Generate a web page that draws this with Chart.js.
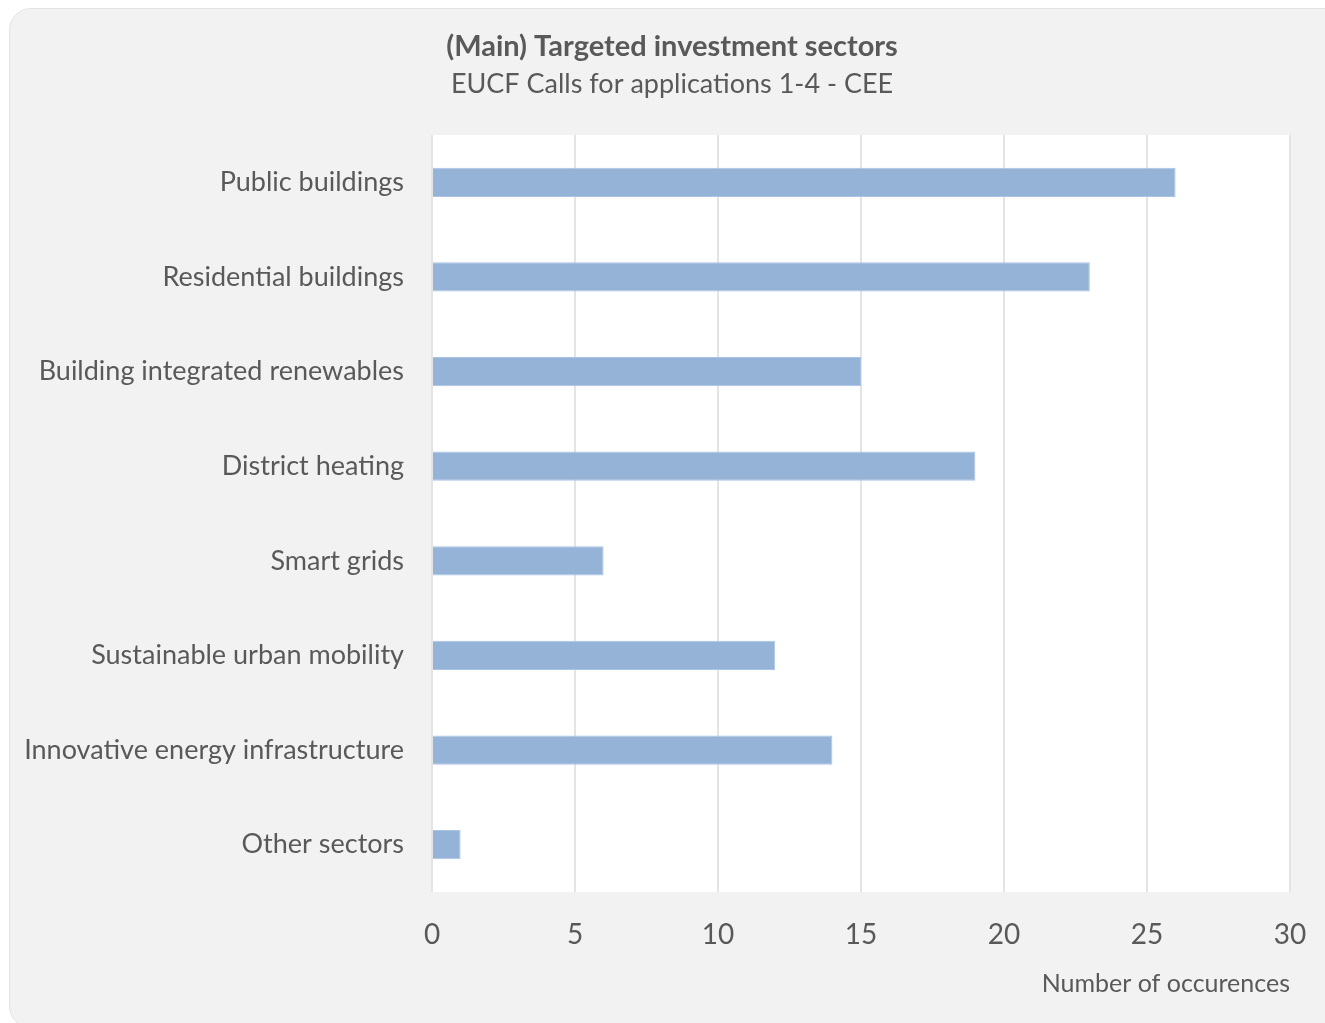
<!DOCTYPE html>
<html>
<head>
<meta charset="utf-8">
<script src="https://cdn.jsdelivr.net/npm/chart.js@4.4.1/dist/chart.umd.min.js"></script>
<style>
  html, body { margin: 0; padding: 0; background: #ffffff; overflow: hidden; }
  #card {
    position: absolute; left: 9px; top: 8px; width: 1340px; height: 1020px;
    background: #f2f2f2; border: 1px solid #e3e3e3; border-radius: 22px; box-sizing: border-box;
  }
  #wrap { position: absolute; left: 0; top: 0; width: 1344px; height: 1023px; }
</style>
</head>
<body>
<div id="card"></div>
<div id="wrap"><canvas id="chart"></canvas></div>
<script>
const sectors = [
  'Public buildings',
  'Residential buildings',
  'Building integrated renewables',
  'District heating',
  'Smart grids',
  'Sustainable urban mobility',
  'Innovative energy infrastructure',
  'Other sectors'
];
const occurrences = [26, 23, 15, 19, 6, 12, 14, 1];
const xTicks = [0, 5, 10, 15, 20, 25, 30];
const chartTitle = '(Main) Targeted investment sectors';
const chartSubtitle = 'EUCF Calls for applications 1-4 - CEE';

const fontFamily = '"Source Sans Pro", Lato, "Open Sans", sans-serif';
const textColor = '#595959';

const plotBackground = {
  id: 'plotBackground',
  beforeDraw(chart) {
    const { ctx, chartArea } = chart;
    ctx.save();
    ctx.fillStyle = '#ffffff';
    ctx.fillRect(chartArea.left, chartArea.top, chartArea.right - chartArea.left, chartArea.bottom - chartArea.top);
    ctx.restore();
  }
};

// title centred on the card rather than on the padded layout box
const cardTitle = {
  id: 'cardTitle',
  afterDraw(chart) {
    const ctx = chart.ctx;
    ctx.save();
    ctx.fillStyle = textColor;
    ctx.textAlign = 'center';
    ctx.textBaseline = 'middle';
    ctx.font = `bold 29px ${fontFamily}`;
    ctx.fillText(chartTitle, 672, 47);
    ctx.font = `27px ${fontFamily}`;
    ctx.fillText(chartSubtitle, 672, 84);
    ctx.restore();
  }
};

const ctx = document.getElementById('chart').getContext('2d');
new Chart(ctx, {
  type: 'bar',
  data: {
    labels: sectors,
    datasets: [{
      data: occurrences,
      backgroundColor: '#95b3d7',
      borderColor: '#a8c3e6',
      borderWidth: 1,
      categoryPercentage: 1,
      barPercentage: 0.31
    }]
  },
  options: {
    indexAxis: 'y',
    responsive: true,
    maintainAspectRatio: false,
    animation: false,
    layout: { padding: { top: 135, right: 54, bottom: 24, left: 10 } },
    plugins: {
      legend: { display: false },
      tooltip: { enabled: false },
      title: { display: false }
    },
    scales: {
      x: {
        min: 0,
        max: 30,
        afterBuildTicks(scale) {
          scale.ticks = xTicks.map(v => ({ value: v }));
        },
        afterFit(scale) { scale.height = 107; },
        grid: { color: '#e4e4e4', lineWidth: 2, drawTicks: false },
        border: { display: false },
        ticks: { color: textColor, font: { family: fontFamily, size: 28 }, padding: 26 },
        title: {
          display: true,
          text: 'Number of occurences',
          align: 'end',
          color: textColor,
          font: { family: fontFamily, size: 25 },
          padding: { top: 0, bottom: 0 }
        }
      },
      y: {
        grid: { display: false, drawTicks: false },
        border: { display: false },
        ticks: { color: textColor, font: { family: fontFamily, size: 27 }, padding: 28 },
        afterFit(scale) { scale.width = 422; }
      }
    }
  },
  plugins: [plotBackground, cardTitle]
});
</script>
</body>
</html>
